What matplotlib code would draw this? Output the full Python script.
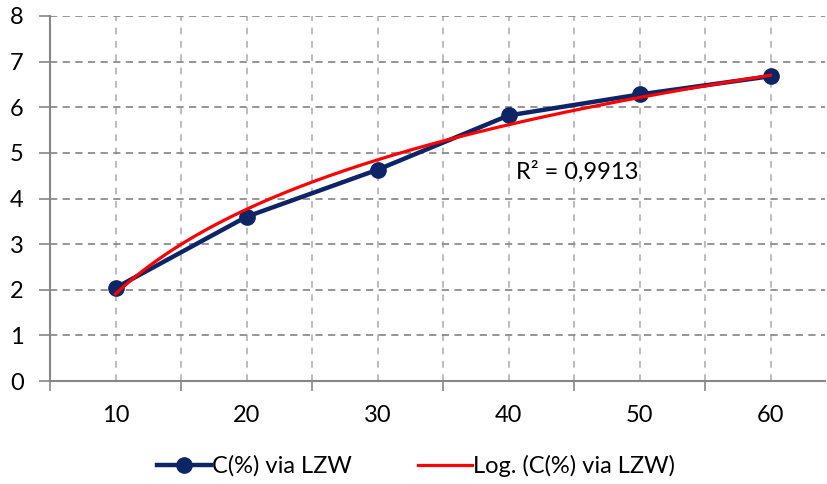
import numpy as np
import matplotlib.pyplot as plt
from matplotlib.ticker import FixedLocator

plt.rcParams['font.family'] = ['Lato', 'DejaVu Sans']

categories = ["10", "20", "30", "40", "50", "60"]
c_values = [2.04, 3.60, 4.63, 5.82, 6.28, 6.68]
series_name = "C(%) via LZW"
trend_name = "Log. (C(%) via LZW)"
r2_label = "R² = 0,9913"

navy = "#0d2466"
red = "#ff0000"

x = np.arange(1, len(categories) + 1)

# Excel-style logarithmic trendline on the category index
a, b = np.polyfit(np.log(x), c_values, 1)
xs = np.linspace(1, len(categories), 200)
trend = a * np.log(xs) + b

fig = plt.figure(figsize=(8.27, 4.84), dpi=100)
ax = fig.add_axes([50 / 827, 1 - 381 / 484, 775 / 827, 365 / 484])

ax.plot(x, c_values, color=navy, lw=3.2, marker='o', ms=11, zorder=3, label=series_name)
ax.plot(xs, trend, color=red, lw=2.3, zorder=4, label=trend_name)

ax.set_xlim(0.5, 0.5 + 775 / 131)
ax.set_ylim(0, 8)
ax.set_yticks(range(0, 9))

ax.set_xticks(x)
ax.set_xticklabels(categories)
ax.xaxis.set_minor_locator(FixedLocator(np.arange(0.5, 7, 1.0)))
ax.tick_params(axis='x', which='major', length=0, pad=17, labelsize=17)
ax.tick_params(axis='x', which='minor', length=7, width=1.2, color='#868686', direction='out')
ax.tick_params(axis='y', length=8, width=1.2, color='#868686', labelsize=17, pad=11)

ax.grid(axis='y', color='#8c8c8c', ls=(0, (4, 3)), lw=1.3)
ax.grid(axis='x', which='both', color='#b0b0b0', ls=(0, (4, 4)), lw=1.2)
ax.set_axisbelow(True)

for side in ['top', 'right']:
    ax.spines[side].set_visible(False)
for side in ['left', 'bottom']:
    ax.spines[side].set_color('#868686')
    ax.spines[side].set_linewidth(1.5)

ax.text(4.06, 4.58, r2_label, fontsize=17, va='center', ha='left')

fig.legend(loc='center', bbox_to_anchor=(416 / 827, 1 - 466 / 484), ncol=2,
           frameon=False, fontsize=17, handlelength=2.3, columnspacing=2.8,
           handletextpad=0.05)

fig.savefig("out.png", dpi=100)
